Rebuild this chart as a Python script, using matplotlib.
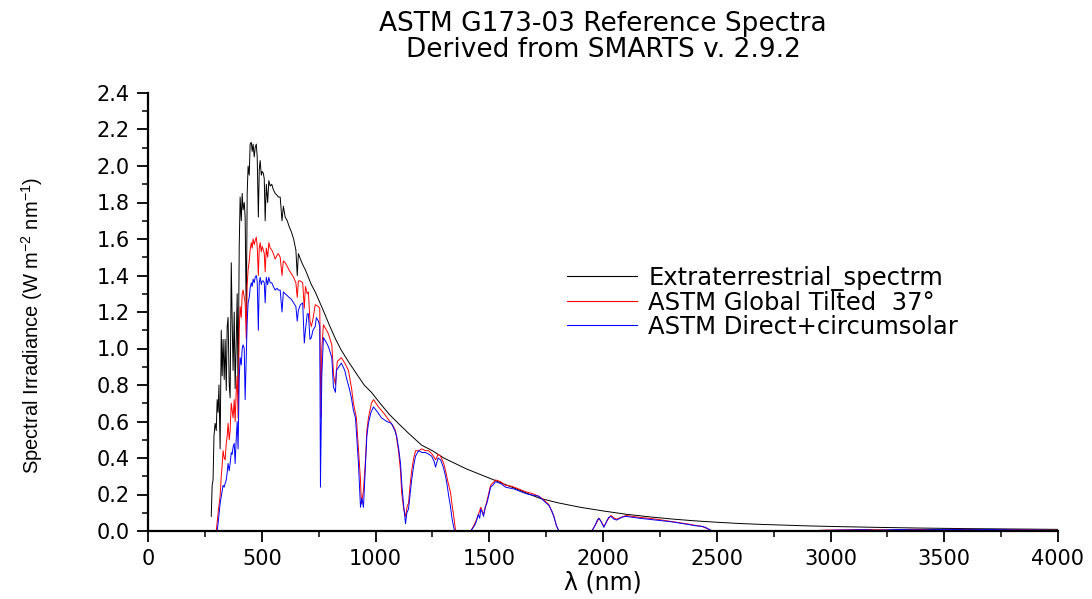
import matplotlib
matplotlib.use("Agg")
import matplotlib.pyplot as plt
from matplotlib.ticker import MultipleLocator

# ---------------- data ----------------
wl_etr = [278, 282, 286, 290, 295, 300, 304, 308, 312, 317, 322, 326, 330, 335, 339, 344, 348,
          352, 357, 361, 366, 370, 374, 379, 383, 388, 392, 396, 401, 405, 410, 414, 418, 423,
          427, 432, 436, 440, 445, 449, 454, 458, 462, 467, 471, 476, 480, 485, 489, 493, 498,
          502, 507, 511, 515, 520, 526, 531, 537, 544, 551, 559, 567, 573, 581, 589, 595, 603,
          612, 620, 630, 640, 650, 656, 661, 670, 680, 692, 705, 718, 735, 749, 770, 800, 825,
          850, 880, 912, 950, 982, 1020, 1060, 1100, 1150, 1203, 1250, 1300, 1350, 1400, 1440,
          1500, 1560, 1620, 1680, 1720, 1800, 1900, 2000, 2100, 2200, 2300, 2400, 2500, 2600,
          2700, 2800, 2900, 3000, 3200, 3400, 3600, 3800, 4000]
etr = [0.08, 0.25, 0.28, 0.52, 0.59, 0.55, 0.72, 0.65, 0.80, 0.45, 1.10, 0.85, 1.05, 0.83, 1.05,
       0.77, 1.12, 1.17, 0.80, 0.73, 1.47, 1.15, 0.88, 1.20, 0.78, 1.05, 1.30, 0.75, 1.56, 1.83,
       1.70, 1.85, 1.76, 1.80, 1.72, 1.17, 1.85, 2.00, 1.95, 2.12, 2.13, 2.08, 2.12, 2.05, 2.10,
       2.12, 2.05, 1.72, 1.98, 2.03, 1.95, 1.97, 1.96, 1.93, 1.70, 1.90, 1.80, 1.92, 1.89, 1.90,
       1.87, 1.85, 1.84, 1.83, 1.83, 1.70, 1.78, 1.72, 1.70, 1.67, 1.64, 1.60, 1.54, 1.40, 1.52,
       1.49, 1.46, 1.43, 1.39, 1.35, 1.31, 1.27, 1.21, 1.12, 1.05, 0.99, 0.93, 0.87, 0.80, 0.76,
       0.70, 0.64, 0.59, 0.53, 0.47, 0.44, 0.40, 0.37, 0.34, 0.32, 0.29, 0.26, 0.23, 0.20, 0.18,
       0.155, 0.13, 0.11, 0.092, 0.078, 0.066, 0.056, 0.048, 0.041, 0.036, 0.032, 0.028, 0.025,
       0.020, 0.016, 0.013, 0.011, 0.009]

wl_global = [295, 300, 305, 310, 317, 322, 326, 330, 335, 339, 344, 348, 352, 357, 361, 366, 370,
             374, 379, 383, 388, 392, 396, 401, 405, 410, 414, 418, 423, 427, 432, 436, 440, 445,
             449, 454, 458, 462, 467, 471, 476, 480, 485, 489, 493, 498, 502, 507, 511, 515, 520,
             526, 531, 537, 544, 551, 559, 567, 573, 581, 589, 595, 603, 612, 620, 630, 640, 650,
             656, 661, 670, 680, 687, 692, 700, 705, 712, 718, 725, 735, 749, 755, 760, 764, 771,
             785, 793, 808, 816, 824, 832, 850, 865, 881, 895, 903, 916, 925, 934, 938, 947, 956,
             962, 969, 982, 991, 1013, 1040, 1057, 1075, 1088, 1101, 1110, 1115, 1124, 1132, 1140,
             1145, 1152, 1159, 1168, 1176, 1190, 1203, 1220, 1233, 1250, 1264, 1275, 1286, 1300,
             1308, 1320, 1330, 1338, 1344, 1352, 1420, 1440, 1455, 1463, 1475, 1489, 1500, 1506,
             1528, 1550, 1572, 1600, 1630, 1660, 1690, 1718, 1740, 1762, 1784, 1795, 1806, 1950,
             1970, 1982, 1993, 2004, 2020, 2035, 2050, 2060, 2080, 2101, 2130, 2159, 2200, 2233,
             2270, 2304, 2340, 2379, 2410, 2436, 2460, 2480, 2900, 2960, 3050, 3150, 3250, 3350,
             3450, 3550, 3650, 3750, 3850, 3950, 4000]
global_tilt = [0.0, 0.0, 0.06, 0.12, 0.19, 0.30, 0.36, 0.44, 0.40, 0.39, 0.48, 0.52, 0.59, 0.50,
               0.55, 0.70, 0.66, 0.62, 0.72, 0.60, 0.77, 0.85, 0.62, 1.10, 1.23, 1.17, 1.30, 1.32,
               1.28, 1.25, 1.05, 1.35, 1.43, 1.48, 1.54, 1.58, 1.55, 1.60, 1.57, 1.59, 1.61, 1.56,
               1.40, 1.55, 1.58, 1.53, 1.56, 1.54, 1.52, 1.42, 1.55, 1.50, 1.58, 1.55, 1.54, 1.52,
               1.49, 1.51, 1.52, 1.50, 1.40, 1.48, 1.47, 1.45, 1.43, 1.41, 1.39, 1.36, 1.28, 1.37,
               1.37, 1.36, 1.22, 1.34, 1.30, 1.31, 1.15, 1.12, 1.16, 1.24, 1.23, 1.22, 0.62, 1.00,
               1.13, 1.10, 1.08, 1.02, 0.85, 0.80, 0.93, 0.95, 0.92, 0.88, 0.78, 0.70, 0.62, 0.45,
               0.28, 0.15, 0.22, 0.39, 0.55, 0.62, 0.70, 0.72, 0.68, 0.64, 0.61, 0.58, 0.55, 0.44,
               0.33, 0.21, 0.12, 0.08, 0.14, 0.15, 0.25, 0.33, 0.40, 0.44, 0.44, 0.45, 0.44, 0.44,
               0.42, 0.39, 0.42, 0.41, 0.37, 0.33, 0.26, 0.21, 0.13, 0.08, 0.0, 0.0, 0.05, 0.10,
               0.13, 0.09, 0.16, 0.22, 0.25, 0.28, 0.27, 0.25, 0.245, 0.23, 0.215, 0.205, 0.19,
               0.17, 0.145, 0.08, 0.03, 0.0, 0.0, 0.04, 0.07, 0.05, 0.025, 0.06, 0.085, 0.07,
               0.065, 0.075, 0.085, 0.08, 0.075, 0.07, 0.065, 0.058, 0.052, 0.045, 0.037, 0.03,
               0.025, 0.012, 0.0, 0.0, 0.004, 0.006, 0.008, 0.006, 0.009, 0.008, 0.009, 0.008,
               0.007, 0.006, 0.004, 0.004]

wl_direct = [300, 304, 308, 313, 317, 322, 326, 330, 335, 339, 344, 348, 352, 357, 361, 366, 370,
             374, 379, 383, 388, 392, 396, 401, 405, 410, 414, 418, 423, 427, 432, 436, 440, 445,
             449, 454, 458, 462, 467, 471, 476, 480, 485, 489, 493, 498, 502, 507, 511, 515, 520,
             526, 531, 537, 544, 551, 559, 567, 573, 581, 589, 595, 603, 612, 620, 630, 640, 650,
             656, 661, 670, 680, 687, 692, 700, 705, 712, 718, 725, 735, 740, 749, 755, 758, 764,
             771, 785, 793, 808, 815, 824, 828, 850, 865, 872, 885, 894, 903, 912, 925, 934, 940,
             947, 956, 962, 969, 980, 991, 1010, 1026, 1050, 1070, 1085, 1093, 1102, 1110, 1116,
             1123, 1132, 1138, 1145, 1152, 1159, 1168, 1176, 1189, 1205, 1220, 1235, 1247, 1258,
             1264, 1275, 1286, 1298, 1308, 1315, 1322, 1330, 1335, 1342, 1348, 1418, 1430, 1440,
             1452, 1458, 1463, 1470, 1475, 1482, 1489, 1497, 1506, 1515, 1528, 1550, 1572, 1590,
             1610, 1630, 1650, 1674, 1700, 1718, 1740, 1762, 1775, 1784, 1795, 1806, 1952, 1965,
             1975, 1982, 1990, 2004, 2015, 2025, 2035, 2048, 2060, 2075, 2090, 2101, 2130, 2159,
             2195, 2233, 2270, 2304, 2340, 2379, 2400, 2436, 2450, 2465, 2480, 2890, 2950, 3050,
             3150, 3200, 3300, 3400, 3500, 3600, 3700, 3800, 3900, 4000]
direct = [0.0, 0.0, 0.04, 0.10, 0.15, 0.19, 0.22, 0.25, 0.24, 0.26, 0.28, 0.32, 0.37, 0.33, 0.37,
          0.43, 0.42, 0.46, 0.48, 0.37, 0.51, 0.60, 0.45, 0.84, 0.95, 0.91, 1.00, 1.02, 1.00, 0.72,
          0.95, 1.15, 1.25, 1.28, 1.33, 1.36, 1.34, 1.38, 1.36, 1.39, 1.40, 1.37, 1.10, 1.36, 1.39,
          1.35, 1.37, 1.37, 1.36, 1.25, 1.39, 1.35, 1.39, 1.36, 1.36, 1.34, 1.32, 1.33, 1.32, 1.32,
          1.20, 1.31, 1.30, 1.29, 1.28, 1.27, 1.25, 1.23, 1.15, 1.21, 1.24, 1.25, 1.03, 1.10, 1.19,
          1.19, 1.05, 1.06, 1.10, 1.12, 1.17, 1.15, 1.12, 0.24, 0.85, 1.06, 1.03, 1.01, 0.95, 0.79,
          0.76, 0.88, 0.92, 0.88, 0.84, 0.78, 0.73, 0.66, 0.62, 0.37, 0.13, 0.18, 0.13, 0.37, 0.52,
          0.59, 0.65, 0.68, 0.65, 0.62, 0.60, 0.59, 0.55, 0.52, 0.45, 0.37, 0.25, 0.15, 0.04, 0.10,
          0.12, 0.20, 0.28, 0.36, 0.41, 0.44, 0.43, 0.43, 0.42, 0.41, 0.38, 0.35, 0.40, 0.39, 0.35,
          0.30, 0.25, 0.19, 0.13, 0.08, 0.03, 0.0, 0.0, 0.02, 0.04, 0.09, 0.07, 0.12, 0.10, 0.08,
          0.13, 0.15, 0.19, 0.24, 0.25, 0.27, 0.26, 0.24, 0.235, 0.23, 0.22, 0.21, 0.20, 0.195,
          0.19, 0.165, 0.14, 0.11, 0.08, 0.03, 0.0, 0.0, 0.03, 0.06, 0.07, 0.055, 0.02, 0.05,
          0.075, 0.08, 0.065, 0.06, 0.07, 0.078, 0.08, 0.075, 0.07, 0.065, 0.06, 0.055, 0.05,
          0.043, 0.035, 0.03, 0.025, 0.02, 0.01, 0.0, 0.0, 0.003, 0.005, 0.007, 0.004, 0.008,
          0.006, 0.009, 0.007, 0.008, 0.006, 0.005, 0.003]

labels = ["Extraterrestrial_spectrm", "ASTM Global Tilted  37°", "ASTM Direct+circumsolar"]
title_text = "ASTM G173-03 Reference Spectra\nDerived from SMARTS v. 2.9.2"

# ---------------- figure ----------------
plt.rcParams['font.family'] = ['DejaVu Sans']
plt.rcParams['mathtext.fontset'] = 'custom'
plt.rcParams['mathtext.rm'] = 'Liberation Sans'
plt.rcParams['mathtext.default'] = 'regular'

W, H = 1092, 599
fig = plt.figure(figsize=(W / 100, H / 100), dpi=100)
fig.patch.set_facecolor('white')
ax = fig.add_axes([148 / W, 1 - 531 / H, (1058 - 148) / W, (531 - 93) / H])

ax.plot(wl_etr, etr, color='black', lw=0.7, label=labels[0])
ax.plot(wl_global, global_tilt, color='red', lw=0.7, label=labels[1])
ax.plot(wl_direct, direct, color='blue', lw=0.7, label=labels[2])

ax.set_xlim(0, 4000)
ax.set_ylim(0, 2.4)
ax.xaxis.set_major_locator(MultipleLocator(500))
ax.xaxis.set_minor_locator(MultipleLocator(250))
ax.yaxis.set_major_locator(MultipleLocator(0.2))
ax.yaxis.set_minor_locator(MultipleLocator(0.1))
ax.yaxis.set_major_formatter(matplotlib.ticker.FormatStrFormatter('%.1f'))

for s in ('top', 'right'):
    ax.spines[s].set_visible(False)
for s in ('left', 'bottom'):
    ax.spines[s].set_linewidth(1.6)

ax.tick_params(which='major', direction='out', length=8, width=1.3, labelsize=15, pad=5)
ax.tick_params(which='minor', direction='out', length=4.5, width=1.1)

ax.set_xlabel("λ (nm)", fontsize=17, labelpad=1)
ax.set_ylabel("Spectral Irradiance (W m$^{-2}$ nm$^{-1}$)", fontsize=14.5,
              family=['Liberation Sans', 'DejaVu Sans'])
ax.yaxis.set_label_coords(-0.113, 0.47)

fig.text(603 / W, 1 - 11 / H, title_text, ha='center', va='top', fontsize=19,
         linespacing=0.98)

leg = ax.legend(loc='upper left', bbox_to_anchor=(567 / W, 1 - 266 / H),
                bbox_transform=fig.transFigure, frameon=False, fontsize=17.5,
                handlelength=2.9, handletextpad=0.45, labelspacing=0.0,
                borderpad=0, borderaxespad=0)
for line in leg.get_lines():
    line.set_linewidth(0.8)

fig.savefig("out.png", dpi=100, facecolor='white')
